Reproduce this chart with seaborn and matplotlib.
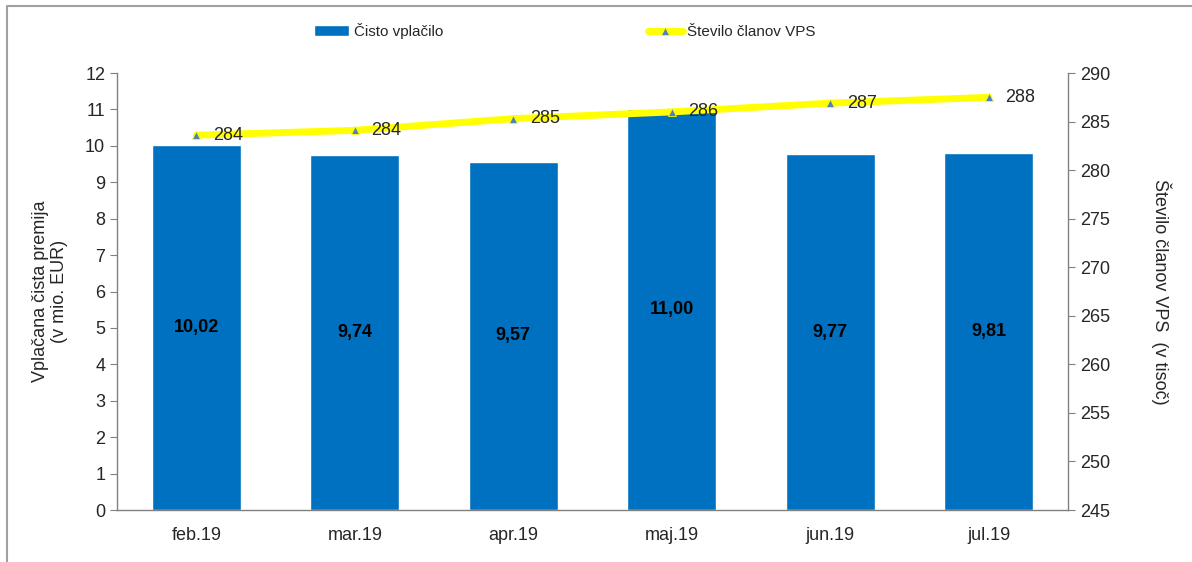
import numpy as np
import pandas as pd
import matplotlib.pyplot as plt
from matplotlib.lines import Line2D
import seaborn as sns

months = ['feb.19', 'mar.19', 'apr.19', 'maj.19', 'jun.19', 'jul.19']
premija = [10.02, 9.74, 9.57, 11.00, 9.77, 9.81]
clani = [283.6, 284.1, 285.3, 286.0, 286.9, 287.5]
clani_labels = ['284', '284', '285', '286', '287', '288']

sns.set_style('white')
plt.rcParams['font.family'] = ['Liberation Sans', 'DejaVu Sans']

df = pd.DataFrame({'mesec': months, 'premija': premija, 'clani': clani})
df['pos'] = np.arange(len(df))

fig = plt.figure(figsize=(11.92, 5.62), dpi=100)
ax = fig.add_axes([0.0982, 0.0925, 0.7978, 0.7775])

bar_color = '#0070C0'
sns.barplot(data=df, x='mesec', y='premija', color=bar_color, width=0.56,
            saturation=1, ax=ax, label='Čisto vplačilo')

for i, v in enumerate(premija):
    ax.text(i, v / 2, f'{v:.2f}'.replace('.', ','), ha='center', va='center',
            fontsize=13, fontweight='bold', color='black')

ax.set_ylim(0, 12)
ax.set_yticks(range(0, 13))
ax.set_xlim(-0.5, len(months) - 0.5)
ax.set_xlabel('')
ax.set_ylabel('Vplačana čista premija\n(v mio. EUR)', fontsize=13, labelpad=12)
ax.set_xticks(np.arange(len(months)))
ax.set_xticklabels(months)
ax.set_xticks(np.arange(-0.5, len(months)), minor=True)
ax.tick_params(axis='x', which='major', length=0, labelsize=13, pad=12)
ax.tick_params(axis='x', which='minor', length=6, color='#808080', direction='out')
ax.tick_params(axis='y', length=5, color='#808080', direction='out', labelsize=13, left=True)

ax2 = ax.twinx()
sns.lineplot(data=df, x='pos', y='clani', ax=ax2, color='#FFFF00', linewidth=5,
             marker='^', markersize=6, markerfacecolor='#4F81BD',
             markeredgecolor='#FFFF00', markeredgewidth=0.6, label='Število članov VPS')
for i, (v, lab) in enumerate(zip(clani, clani_labels)):
    ax2.annotate(lab, (i, v), xytext=(12, 0), textcoords='offset points',
                 ha='left', va='center', fontsize=13)
ax2.set_ylim(245, 290)
ax2.set_yticks(range(245, 291, 5))
ax2.set_xlim(-0.5, len(months) - 0.5)
ax2.set_xlabel('')
ax2.set_ylabel('Število članov VPS  (v tisoč)', fontsize=13, rotation=270, labelpad=44)
ax2.tick_params(axis='y', length=5, color='#808080', direction='out', labelsize=13, right=True)

for a in (ax, ax2):
    for s in a.spines.values():
        s.set_visible(False)
ax.spines['left'].set_visible(True)
ax.spines['bottom'].set_visible(True)
ax2.spines['right'].set_visible(True)
for s in (ax.spines['left'], ax.spines['bottom'], ax2.spines['right']):
    s.set_color('#808080')
    s.set_linewidth(1)

if ax.get_legend():
    ax.get_legend().remove()
if ax2.get_legend():
    ax2.get_legend().remove()
h1, l1 = ax.get_legend_handles_labels()
h2, l2 = ax2.get_legend_handles_labels()
fig.legend(h1 + h2, l1 + l2, loc='center', bbox_to_anchor=(0.474, 0.945), ncol=2,
           frameon=False, fontsize=11, columnspacing=13.4, handlelength=2.3,
           handletextpad=0.3)

# chart frame (only left and top edges visible in the crop)
x0, y0 = 7.5 / 1192, 1 - 5.5 / 562
fig.add_artist(Line2D([x0, x0, 1.0], [0.0, y0, y0], transform=fig.transFigure,
                      color='#A0A0A0', linewidth=1.5))

fig.savefig('out.png', dpi=100)
